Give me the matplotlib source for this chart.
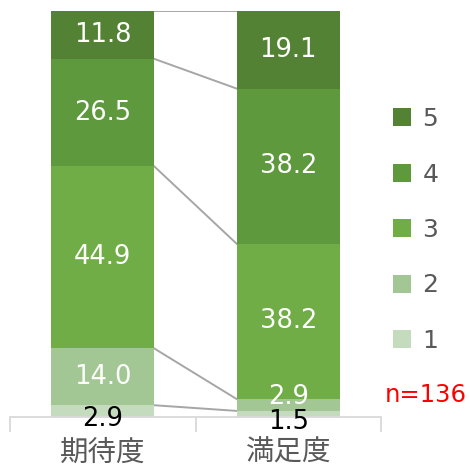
import matplotlib
matplotlib.use("Agg")
import matplotlib.pyplot as plt
import numpy as np

categories = ["期待度", "満足度"]
levels = ["1", "2", "3", "4", "5"]
v1 = [2.9, 1.5]
v2 = [14.0, 2.9]
v3 = [44.9, 38.2]
v4 = [26.5, 38.2]
v5 = [11.8, 19.1]
n_label = "n=136"

series = [v1, v2, v3, v4, v5]
colors = ["#c5dbbe", "#a3c794", "#70ad47", "#5f993e", "#548235"]
label_colors = ["black", "white", "white", "white", "white"]

plt.rcParams['font.family'] = ['DejaVu Sans', 'Noto Sans CJK JP']

fig = plt.figure(figsize=(4.70, 4.72), dpi=100)
ax = fig.add_axes([10/470, (472-417)/472, 371/470, 406/472])

data = np.array(series, dtype=float)
totals = data.sum(axis=0)
pct = data / totals * 100
x = np.arange(len(categories))
w = 0.555
bottom = np.zeros(len(categories))
bounds = [bottom.copy()]
handles = []
for i, (vals, c) in enumerate(zip(pct, colors)):
    h = ax.bar(x, vals, w, bottom=bottom, color=c, edgecolor='none', label=levels[i], zorder=2)
    handles.append(h)
    for j in range(len(categories)):
        yc = bottom[j] + vals[j] / 2
        dy = 0
        if i == 0:
            dy = -6
        elif i == 1 and j == 1:
            dy = 6
        ax.annotate(f"{series[i][j]:.1f}", (x[j], yc), xytext=(0, dy), textcoords='offset points',
                    ha='center', va='center', color=label_colors[i], fontsize=18.5, zorder=4)
    bottom = bottom + vals
    bounds.append(bottom.copy())

# connecting lines
for b in bounds[1:]:
    ax.plot([x[0] + w/2, x[1] - w/2], [b[0], b[1]], color='#a6a6a6', lw=1.4, zorder=1)

ax.set_xlim(-0.5, 1.5)
ax.set_ylim(0, 100)
ax.set_yticks([])
for s in ['top', 'right', 'left']:
    ax.spines[s].set_visible(False)
ax.spines['bottom'].set_color('#d9d9d9')
ax.spines['bottom'].set_linewidth(1.3)
ax.set_xticks([-0.5, 0.5, 1.5])
ax.set_xticklabels([])
ax.set_xticks(x, minor=True)
ax.set_xticklabels(categories, minor=True, fontsize=20.5, color='#595959',
                   family=['Noto Sans CJK JP'])
ax.tick_params(axis='x', which='major', length=11, color='#d9d9d9', width=1.3)
ax.tick_params(axis='x', which='minor', length=0, pad=15)

leg = fig.legend(handles[::-1], levels[::-1], loc='upper left', bbox_to_anchor=(383/470, 1 - 97/472),
                 frameon=False, fontsize=18, labelcolor='#595959', handlelength=0.72, handleheight=0.72,
                 handletextpad=0.45, labelspacing=1.26, borderaxespad=0)

fig.text(425.5/470, 1 - 395/472, n_label, color='red', fontsize=17.5, ha='center', va='center')

fig.savefig("out.png", dpi=100)
